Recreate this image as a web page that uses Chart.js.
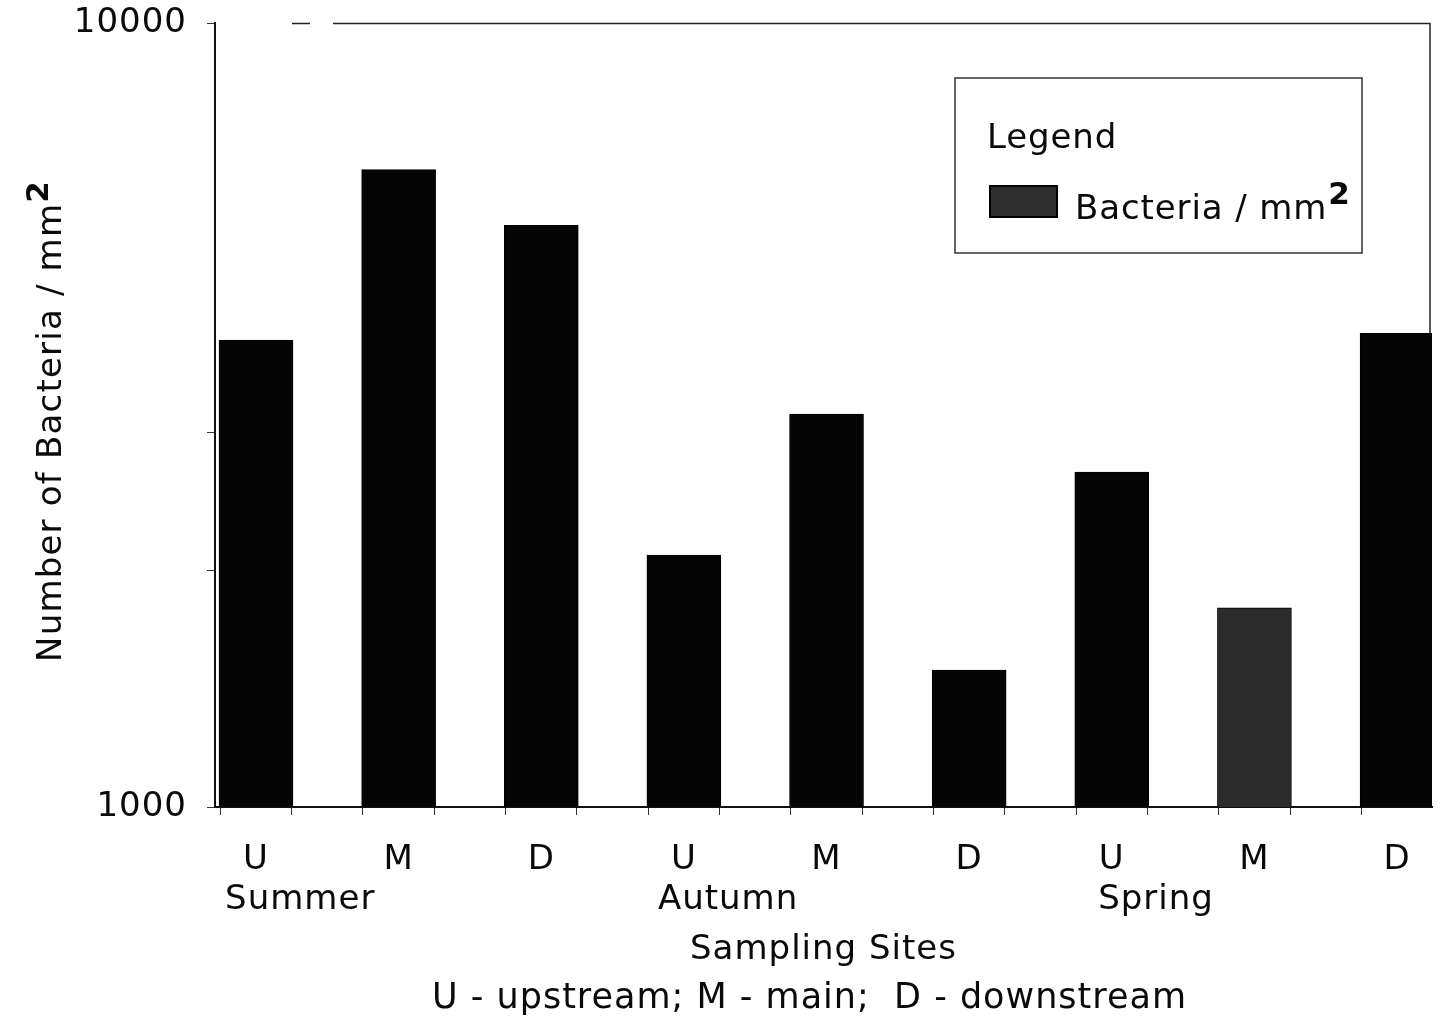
<!DOCTYPE html>
<html>
<head>
<meta charset="utf-8">
<script src="https://cdn.jsdelivr.net/npm/chart.js@4.4.1/dist/chart.umd.min.js"></script>
<style>
  html, body { margin: 0; padding: 0; background: #ffffff; }
  #wrap { width: 1437px; height: 1029px; position: relative; }
</style>
</head>
<body>
<div id="wrap"><canvas id="c" width="1437" height="1029"></canvas></div>
<script>
// ---- data ----
const siteLabels = ['U', 'M', 'D', 'U', 'M', 'D', 'U', 'M', 'D'];
const seasonLabels = ['Summer', 'Autumn', 'Spring'];
const bacteriaPerMm2 = [3940, 6500, 5520, 2095, 3170, 1495, 2675, 1795, 4020];
const xTickValues = [0, 0.5, 1, 1.5, 2, 2.5, 3, 3.5, 4, 4.5, 5, 5.5, 6, 6.5, 7, 7.5, 8];
const yTickValues = [1000, 2000, 3000, 10000];
const yTickLabels = ['1000', '', '', '10000'];
const yAxisTitle = 'Number of Bacteria / mm';
const xAxisTitle = 'Sampling Sites';
const xAxisNote = 'U - upstream; M - main;  D - downstream';
const legendTitle = 'Legend';
const legendLabel = 'Bacteria / mm';

// ---- styles ----
const barFill = ['#050505', '#050505', '#050505', '#050505', '#050505', '#050505', '#050505', '#2b2b2b', '#050505'];
const FONT = 'DejaVu Sans';
const INK = '#0a0a0a';

const points = bacteriaPerMm2.map((v, i) => ({ x: i, y: v }));

const framePlugin = {
  id: 'frame',
  beforeDraw(chart) {
    chart.ctx.letterSpacing = '1px';
  },
  beforeDatasetsDraw(chart) {
    const { ctx, chartArea: ca } = chart;
    ctx.save();
    ctx.strokeStyle = '#222';
    ctx.lineWidth = 1.5;
    ctx.beginPath();
    ctx.moveTo(ca.left + 77, ca.top + 0.5);
    ctx.lineTo(ca.left + 95, ca.top + 0.5);
    ctx.moveTo(ca.left + 118, ca.top + 0.5);
    ctx.lineTo(ca.right - 2, ca.top + 0.5);
    ctx.lineTo(ca.right - 2, ca.bottom);
    ctx.stroke();
    ctx.restore();
  }
};

const textPlugin = {
  id: 'texts',
  afterDraw(chart) {
    const { ctx, chartArea: ca } = chart;
    const xs = chart.scales.x;
    ctx.save();
    ctx.fillStyle = INK;
    ctx.letterSpacing = '1px';

    // season labels under the site labels
    ctx.font = '34px "' + FONT + '"';
    ctx.textAlign = 'center';
    ctx.textBaseline = 'middle';
    seasonLabels.forEach((s, i) => {
      ctx.fillText(s, xs.getPixelForValue(i * 3 + 0.31), 900);
    });

    // explanatory note
    ctx.font = '35px "' + FONT + '"';
    ctx.fillText(xAxisNote, (ca.left + ca.right) / 2 - 14, 999);

    // y-axis title with superscript
    ctx.save();
    ctx.translate(61, 662);
    ctx.rotate(-Math.PI / 2);
    ctx.textAlign = 'left';
    ctx.textBaseline = 'alphabetic';
    ctx.font = '34px "' + FONT + '"';
    ctx.letterSpacing = '1.2px';
    ctx.fillText(yAxisTitle, 0, 0);
    const w = ctx.measureText(yAxisTitle).width;
    ctx.font = 'bold 31px "' + FONT + '"';
    ctx.letterSpacing = '0px';
    ctx.fillText('2', w + 0, -13);
    ctx.restore();

    // legend box
    const lx = 955, ly = 78, lw = 407, lh = 175;
    ctx.strokeStyle = '#333';
    ctx.lineWidth = 1.5;
    ctx.strokeRect(lx, ly, lw, lh);
    ctx.textAlign = 'left';
    ctx.textBaseline = 'alphabetic';
    ctx.font = '34px "' + FONT + '"';
    ctx.letterSpacing = '0.9px';
    ctx.fillText(legendTitle, 987, 148);
    ctx.fillStyle = '#2e2e2e';
    ctx.fillRect(990, 186, 67, 31);
    ctx.strokeStyle = '#000';
    ctx.lineWidth = 2;
    ctx.strokeRect(990, 186, 67, 31);
    ctx.fillStyle = INK;
    ctx.fillText(legendLabel, 1075, 219);
    const lw2 = ctx.measureText(legendLabel).width;
    ctx.font = 'bold 31px "' + FONT + '"';
    ctx.letterSpacing = '0px';
    ctx.fillText('2', 1075 + lw2 + 1, 204);
    ctx.restore();
  }
};

new Chart(document.getElementById('c').getContext('2d'), {
  type: 'bar',
  data: {
    datasets: [{
      label: legendLabel,
      data: points,
      backgroundColor: barFill,
      borderColor: '#000',
      borderWidth: 1,
      barThickness: 74
    }]
  },
  options: {
    responsive: false,
    animation: false,
    devicePixelRatio: 1,
    layout: { padding: { top: 23, right: 5, left: 0, bottom: 0 } },
    plugins: { legend: { display: false }, tooltip: { enabled: false }, title: { display: false } },
    scales: {
      x: {
        type: 'linear',
        min: -0.2875,
        max: 8.245,
        offset: false,
        afterBuildTicks: (s) => { s.ticks = xTickValues.map(v => ({ value: v })); },
        afterFit: (s) => { s.height = 222; s.paddingLeft = 0; s.paddingRight = 0; },
        grid: { display: true, drawOnChartArea: false, drawTicks: true, tickLength: 8, color: '#333', lineWidth: 1 },
        border: { display: true, color: '#111', width: 2 },
        ticks: {
          autoSkip: false, maxRotation: 0, minRotation: 0, padding: 25,
          color: INK,
          font: { family: FONT, size: 34 },
          callback: (v) => Number.isInteger(v) ? siteLabels[v] : ''
        },
        title: {
          display: true, text: xAxisTitle, color: INK,
          font: { family: FONT, size: 34 },
          padding: { top: 0, bottom: 58 }
        }
      },
      y: {
        type: 'logarithmic',
        min: 1000,
        max: 10000,
        afterBuildTicks: (s) => { s.ticks = yTickValues.map(v => ({ value: v })); },
        afterFit: (s) => { s.width = 215; s.paddingTop = 0; s.paddingBottom = 0; },
        grid: { display: true, drawOnChartArea: false, drawTicks: true, tickLength: 8, color: '#333', lineWidth: 1 },
        border: { display: true, color: '#111', width: 2 },
        ticks: {
          autoSkip: false, padding: 20,
          color: INK,
          font: { family: FONT, size: 34 },
          callback: (v) => { const i = yTickValues.indexOf(v); return i >= 0 ? yTickLabels[i] : ''; }
        },
        title: { display: false }
      }
    }
  },
  plugins: [framePlugin, textPlugin]
});
</script>
</body>
</html>
